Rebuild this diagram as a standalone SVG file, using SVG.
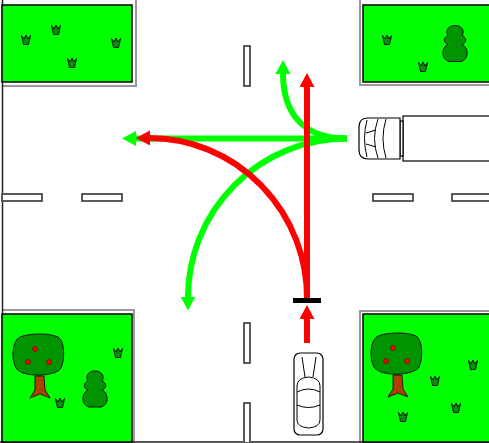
<svg xmlns="http://www.w3.org/2000/svg" width="489" height="443" viewBox="0 0 489 443">
  <style>
    .grass { fill: #00ff00; stroke: #000; stroke-width: 1.5; }
    .curb { fill: none; stroke: #999; stroke-width: 2; }
    .edge { fill: none; stroke: #222; stroke-width: 1.5; }
    .dash { fill: #fff; stroke: #999; stroke-width: 2; }
    .dash-in { fill: none; stroke: #000; stroke-width: 0.8; }
    .plant { fill: #009400; stroke: #000; stroke-width: 0.9; }
    .trunk { fill: #b04000; stroke: #000; stroke-width: 0.8; }
    .apple { fill: #ff0000; stroke: #600; stroke-width: 0.6; }
    .body { fill: #fff; stroke: #000; stroke-width: 1.2; }
    .detail { fill: none; stroke: #000; stroke-width: 1; }
    .red { fill: none; stroke: #ff0000; stroke-width: 6; }
    .green { fill: none; stroke: #00ff00; stroke-width: 6; }
  </style>
  <defs>
    <marker id="headRed" viewBox="0 0 14 15" markerWidth="14" markerHeight="15" refX="1" refY="7.5" orient="auto" markerUnits="userSpaceOnUse">
      <path d="M0,0 L14,7.5 L0,15 Z" fill="#ff0000"/>
    </marker>
    <marker id="headGreen" viewBox="0 0 14 15" markerWidth="14" markerHeight="15" refX="1" refY="7.5" orient="auto" markerUnits="userSpaceOnUse">
      <path d="M0,0 L14,7.5 L0,15 Z" fill="#00ff00"/>
    </marker>
    <path id="tuft" class="plant" d="M-4.5,-4.5 L-2,-1 L0,-5 L2,-1 L4.5,-4.5 L2.5,4.5 L-2.5,4.5 Z"/>
    <path id="bush" class="plant" d="M0,-18 C7,-18 10,-12 7,-8 C12,-6 12,-1 7,1 C14,4 14,16 6,18 L-6,18 C-14,16 -14,4 -7,1 C-12,-1 -12,-6 -7,-8 C-10,-12 -7,-18 0,-18 Z"/>
    <g id="tree">
      <polygon class="trunk" points="22,42 31,42 32,56 37,64 27,60 17,64 22,56"/>
      <path class="plant" d="M7,3 C17,-1 37,-1 45,3 C52,7 52,26 48,34 C43,43 9,44 3,34 C-2,25 -1,7 7,3 Z"/>
      <circle class="apple" cx="22" cy="15" r="2.5"/>
      <circle class="apple" cx="15" cy="28" r="2.5"/>
      <circle class="apple" cx="36" cy="28" r="2.5"/>
    </g>
  </defs>

  <rect width="489" height="443" fill="#fff"/>

  <!-- road edges and kerbs -->
  <g id="road">
    <path class="curb" d="M136,0 V86 H2"/>
    <path class="curb" d="M360,0 V85 H489"/>
    <path class="curb" d="M2,310 H134 V443"/>
    <path class="curb" d="M489,311 H360 V443"/>
    <line class="edge" x1="2.5" y1="0" x2="2.5" y2="443"/>
    <line class="edge" x1="0" y1="442" x2="489" y2="442"/>
    <!-- lane markings -->
    <rect class="dash" x="2" y="194" width="40" height="7"/>
    <rect class="dash" x="82" y="194" width="40" height="7"/>
    <rect class="dash" x="373" y="194" width="40" height="7"/>
    <rect class="dash" x="452" y="194" width="40" height="7"/>
    <rect class="dash" x="244" y="46" width="6" height="40"/>
    <rect class="dash" x="244" y="323" width="6" height="40"/>
    <rect class="dash" x="244" y="403" width="6" height="40"/>
    <rect class="dash-in" x="2" y="194" width="40" height="7"/>
    <rect class="dash-in" x="82" y="194" width="40" height="7"/>
    <rect class="dash-in" x="373" y="194" width="40" height="7"/>
    <rect class="dash-in" x="452" y="194" width="40" height="7"/>
    <rect class="dash-in" x="244" y="46" width="6" height="40"/>
    <rect class="dash-in" x="244" y="323" width="6" height="40"/>
    <rect class="dash-in" x="244" y="403" width="6" height="40"/>
  </g>

  <!-- corner lawns -->
  <g id="lawn-nw">
    <rect class="grass" x="2" y="5" width="130" height="77"/>
    <use href="#tuft" x="26" y="40"/>
    <use href="#tuft" x="56" y="30"/>
    <use href="#tuft" x="116" y="43"/>
    <use href="#tuft" x="72" y="63"/>
  </g>
  <g id="lawn-ne">
    <rect class="grass" x="363" y="5" width="130" height="77"/>
    <use href="#tuft" x="387" y="40"/>
    <use href="#tuft" x="423" y="67"/>
    <use href="#bush" x="455" y="43.5"/>
  </g>
  <g id="lawn-sw">
    <rect class="grass" x="2" y="314" width="130" height="128"/>
    <use href="#tree" x="13" y="334"/>
    <use href="#bush" x="95" y="389"/>
    <use href="#tuft" x="118" y="353"/>
    <use href="#tuft" x="60" y="403"/>
  </g>
  <g id="lawn-se">
    <rect class="grass" x="363" y="314" width="130" height="128"/>
    <use href="#tree" x="371" y="333"/>
    <use href="#tuft" x="473" y="365"/>
    <use href="#tuft" x="435" y="381"/>
    <use href="#tuft" x="456" y="408"/>
    <use href="#tuft" x="403" y="417"/>
  </g>

  <!-- truck heading west -->
  <g id="truck">
    <rect class="body" x="403" y="116" width="90" height="45"/>
    <rect class="body" x="400" y="121" width="3" height="35"/>
    <path class="body" d="M368,118 H400 V159 H368 Q359,159 359,150 V127 Q359,118 368,118 Z"/>
    <path class="detail" d="M367,120 Q362,138.5 367,157"/>
    <path class="detail" d="M378,119 Q371,138.5 378,158"/>
    <path class="detail" d="M386,119 Q380,138.5 386,158"/>
    <path class="detail" d="M366,133 L376,130 M366,144 L376,147"/>
  </g>

  <!-- car heading north -->
  <g id="car">
    <rect class="body" x="294" y="353" width="29" height="82" rx="6"/>
    <path class="detail" d="M302,357 L305,377 M316,357 L313,377"/>
    <path class="detail" d="M297,386 Q297,378 308.5,377 Q320,378 320,386 L320,420 Q320,427 308.5,428 Q297,427 297,420 Z"/>
    <path class="detail" d="M297,392 Q308.5,386 320,392"/>
    <path class="detail" d="M297,405 Q308.5,410 320,405"/>
  </g>

  <!-- movement arrows -->
  <g id="connectors">
    <path class="green" d="M347,138.5 L135,138.5" marker-end="url(#headGreen)"/>
    <path class="green" d="M347,138.5 C300,138.5 283,110 283,73" marker-end="url(#headGreen)"/>
    <path class="green" d="M347,138.5 A159,159 0 0 0 188,297.5" marker-end="url(#headGreen)"/>
    <path class="red" d="M307,300 L307,86" marker-end="url(#headRed)"/>
    <path class="red" d="M307,300 A158,160 0 0 0 149,138" marker-end="url(#headRed)"/>
    <path class="red" d="M307,343 L307,318" marker-end="url(#headRed)"/>
  </g>

  <!-- stop line -->
  <rect id="stop-line" x="293" y="298" width="28" height="5" fill="#000"/>
</svg>
